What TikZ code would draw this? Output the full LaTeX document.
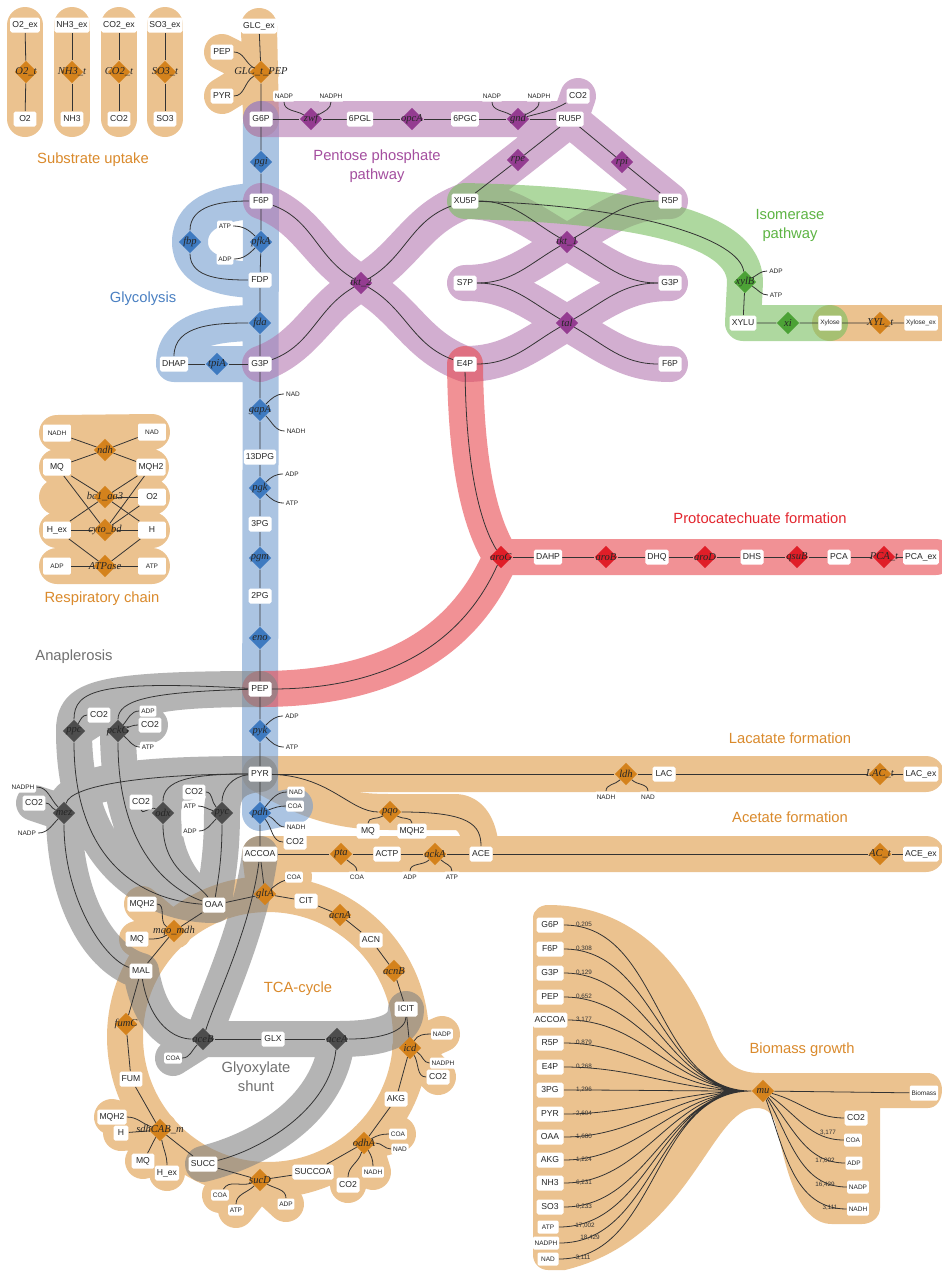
\documentclass[tikz,border=0pt]{standalone}
\usepackage{fontspec}
\setmainfont{Liberation Sans}
\newfontfamily\rxnfont{Liberation Serif}
\usepackage{tikz}
\usetikzlibrary{shapes.geometric}

\definecolor{orng}{HTML}{D4821C}
\definecolor{orngband}{HTML}{DE9A45}
\definecolor{orngtxt}{HTML}{DA8A2C}
\definecolor{blu}{HTML}{3E7AC0}
\definecolor{bluband}{HTML}{739DD0}
\definecolor{blutxt}{HTML}{4A80C2}
\definecolor{purp}{HTML}{943C91}
\definecolor{purpband}{HTML}{B479B1}
\definecolor{purptxt}{HTML}{A44E9F}
\definecolor{grn}{HTML}{4CA236}
\definecolor{grnband}{HTML}{79BF60}
\definecolor{grntxt}{HTML}{5DB443}
\definecolor{redd}{HTML}{E01E28}
\definecolor{redband}{HTML}{E8484F}
\definecolor{redtxt}{HTML}{E3262E}
\definecolor{gry}{HTML}{4D4D4D}
\definecolor{gryband}{HTML}{838383}
\definecolor{grytxt}{HTML}{707070}

\pgfdeclarelayer{paper}
\pgfdeclarelayer{bands}
\pgfdeclarelayer{links}
\pgfsetlayers{paper,bands,links,main}

\newcommand{\rx}[1]{\makebox[0pt]{#1}}

\begin{document}
\begin{tikzpicture}[x=0.02cm, y=0.02cm]
    % Styles
    \tikzstyle{met} = [fill=white, rounded corners=1pt, inner xsep=1.2pt, inner ysep=0pt, minimum height=0.3cm, minimum width=0.46cm, text=black!85, font=\fontsize{4.9}{5.5}\selectfont]
    \tikzstyle{cof} = [fill=white, rounded corners=0.8pt, inner xsep=1pt, inner ysep=0pt, minimum height=0.22cm, text=black!85, font=\fontsize{3.7}{4.2}\selectfont]
    \tikzstyle{resp} = [minimum width=0.56cm, minimum height=0.34cm]
    \tikzstyle{rxn} = [diamond, minimum width=0.45cm, minimum height=0.45cm, inner sep=0pt, text=black!85, font=\rxnfont\itshape\fontsize{6}{7}\selectfont]
    \tikzstyle{rxnO} = [rxn, fill=orng]
    \tikzstyle{rxnB} = [rxn, fill=blu]
    \tikzstyle{rxnP} = [rxn, fill=purp]
    \tikzstyle{rxnG} = [rxn, fill=grn]
    \tikzstyle{rxnR} = [rxn, fill=redd]
    \tikzstyle{rxnK} = [rxn, fill=gry]
    \tikzstyle{ln} = [draw=black!80, line width=0.45pt]
    \tikzstyle{band} = [line width=0.72cm, line cap=round, line join=round, draw opacity=0.6]
    \tikzstyle{pwlab} = [align=center, font=\fontsize{8.4}{10.8}\selectfont]
    \tikzstyle{coef} = [inner sep=0pt, text=black!80, font=\fontsize{3.6}{4.2}\selectfont]

    \useasboundingbox (0,0) rectangle (941,-1272);

    % Substrate uptake
    \node[met] (O2ex) at (25,-25) {O2\_ex};
    \node[rxnO] (O2t) at (26,-72) {\rx{O2\_t}};
    \node[met] (O2in) at (25,-119) {O2};
    \node[met] (NH3ex) at (72,-25) {NH3\_ex};
    \node[rxnO] (NH3t) at (72,-72) {\rx{NH3\_t}};
    \node[met] (NH3in) at (72,-119) {NH3};
    \node[met] (CO2ex) at (119,-25) {CO2\_ex};
    \node[rxnO] (CO2t) at (119,-72) {\rx{CO2\_t}};
    \node[met] (CO2in) at (119,-119) {CO2};
    \node[met] (SO3ex) at (165,-25) {SO3\_ex};
    \node[rxnO] (SO3t) at (165,-72) {\rx{SO3\_t}};
    \node[met] (SO3in) at (165,-119) {SO3};
    \node[pwlab, text=orngtxt] (labUptake) at (93,-160) {Substrate uptake};

    % Glucose uptake
    \node[met] (GLCex) at (259,-26) {GLC\_ex};
    \node[rxnO] (GLCt) at (261,-72) {\rx{GLC\_t\_PEP}};
    \node[met] (PEPg) at (222,-52) {PEP};
    \node[met] (PYRg) at (222,-96) {PYR};
    \node[met] (G6P) at (261,-119) {G6P};

    % Pentose phosphate pathway
    \node[rxnP] (zwf) at (311,-119) {\rx{zwf}};
    \node[cof] (NADPz) at (284,-96) {NADP};
    \node[cof] (NADPHz) at (331,-96) {NADPH};
    \node[met] (PGL) at (360,-119) {6PGL};
    \node[rxnP] (opcA) at (412,-119) {\rx{opcA}};
    \node[met] (PGC) at (465,-119) {6PGC};
    \node[rxnP] (gnd) at (518,-119) {\rx{gnd}};
    \node[cof] (NADPg) at (492,-96) {NADP};
    \node[cof] (NADPHg) at (539,-96) {NADPH};
    \node[met] (CO2g) at (578,-96) {CO2};
    \node[met] (RU5P) at (570,-119) {RU5P};
    \node[rxnP] (rpe) at (518,-160) {\rx{rpe}};
    \node[rxnP] (rpi) at (622,-162) {\rx{rpi}};
    \node[met] (XU5P) at (465,-201) {XU5P};
    \node[met] (R5P) at (670,-201) {R5P};
    \node[rxnP] (tkt1) at (567,-242) {\rx{tkt\_1}};
    \node[met] (S7P) at (465,-283) {S7P};
    \node[met] (G3Pp) at (670,-283) {G3P};
    \node[rxnP] (tal) at (567,-323) {\rx{tal}};
    \node[met] (E4P) at (465,-364) {E4P};
    \node[met] (F6Pp) at (670,-364) {F6P};
    \node[rxnP] (tkt2) at (361,-283) {\rx{tkt\_2}};
    \node[pwlab, text=purptxt] (labPPP) at (377,-166) {Pentose phosphate\\pathway};

    % Glycolysis
    \node[rxnB] (pgi) at (261,-162) {\rx{pgi}};
    \node[met] (F6P) at (261,-201) {F6P};
    \node[rxnB] (pfkA) at (261,-242) {\rx{pfkA}};
    \node[cof] (ATPpf) at (225,-226) {ATP};
    \node[cof] (ADPpf) at (225,-259) {ADP};
    \node[rxnB] (fbp) at (190,-242) {\rx{fbp}};
    \node[met] (FDP) at (260,-280) {FDP};
    \node[rxnB] (fda) at (260,-323) {\rx{fda}};
    \node[met] (G3P) at (260,-364) {G3P};
    \node[rxnB] (tpiA) at (217,-364) {\rx{tpiA}};
    \node[met] (DHAP) at (174,-364) {DHAP};
    \node[rxnB] (gapA) at (260,-410) {\rx{gapA}};
    \node[cof] (NADga) at (293,-394) {NAD};
    \node[cof] (NADHga) at (296,-431) {NADH};
    \node[met] (DPG) at (260,-457) {13DPG};
    \node[rxnB] (pgk) at (260,-488) {\rx{pgk}};
    \node[cof] (ADPpg) at (292,-474) {ADP};
    \node[cof] (ATPpg) at (292,-503) {ATP};
    \node[met] (PGiii) at (260,-524) {3PG};
    \node[rxnB] (pgm) at (260,-558) {\rx{pgm}};
    \node[met] (PGii) at (260,-596) {2PG};
    \node[rxnB] (eno) at (260,-638) {\rx{eno}};
    \node[met] (PEP) at (260,-689) {PEP};
    \node[rxnB] (pyk) at (260,-731) {\rx{pyk}};
    \node[cof] (ADPpy) at (292,-716) {ADP};
    \node[cof] (ATPpy) at (292,-747) {ATP};
    \node[met] (PYR) at (260,-774) {PYR};
    \node[rxnB] (pdh) at (260,-813) {\rx{pdh}};
    \node[cof] (NADpd) at (296,-792) {NAD};
    \node[cof] (COApd) at (295,-806) {COA};
    \node[cof] (NADHpd) at (296,-827) {NADH};
    \node[met] (CO2pd) at (295,-842) {CO2};
    \node[met] (ACCOA) at (260,-854) {ACCOA};
    \node[pwlab, text=blutxt] (labGly) at (143,-299) {Glycolysis};

    % Isomerase pathway
    \node[rxnG] (xylB) at (745,-282) {\rx{xylB}};
    \node[cof] (ADPxy) at (776,-271) {ADP};
    \node[cof] (ATPxy) at (776,-295) {ATP};
    \node[met] (XYLU) at (743,-323) {XYLU};
    \node[rxnG] (xi) at (788,-323) {\rx{xi}};
    \node[cof, minimum height=0.3cm] (Xylose) at (830,-323) {Xylose};
    \node[rxnO] (XYLt) at (880,-323) {\rx{XYL\_t}};
    \node[cof, minimum height=0.3cm] (XYLex) at (921,-323) {Xylose\_ex};
    \node[pwlab, text=grntxt] (labIso) at (790,-225) {Isomerase\\pathway};

    % Protocatechuate formation
    \node[rxnR] (aroG) at (501,-557) {\rx{aroG}};
    \node[met] (DAHP) at (548,-557) {DAHP};
    \node[rxnR] (aroB) at (606,-557) {\rx{aroB}};
    \node[met] (DHQ) at (657,-557) {DHQ};
    \node[rxnR] (aroD) at (705,-557) {\rx{aroD}};
    \node[met] (DHS) at (752,-557) {DHS};
    \node[rxnR] (qsuB) at (797,-557) {\rx{qsuB}};
    \node[met] (PCA) at (839,-557) {PCA};
    \node[rxnR] (PCAt) at (884,-557) {\rx{PCA\_t}};
    \node[met] (PCAex) at (921,-557) {PCA\_ex};
    \node[pwlab, text=redtxt] (labPCA) at (760,-518) {Protocatechuate formation};

    % Anaplerosis
    \node[rxnK] (ppc) at (74,-731) {\rx{ppc}};
    \node[met] (CO2pp) at (99,-715) {CO2};
    \node[rxnK] (pckG) at (118,-731) {\rx{pckG}};
    \node[cof] (ADPpk) at (148,-711) {ADP};
    \node[met] (CO2pk) at (150,-725) {CO2};
    \node[cof] (ATPpk) at (148,-747) {ATP};
    \node[rxnK] (mez) at (64,-813) {\rx{mez}};
    \node[cof] (NADPHme) at (23,-787) {NADPH};
    \node[met] (CO2me) at (34,-803) {CO2};
    \node[cof] (NADPme) at (27,-833) {NADP};
    \node[rxnK] (odx) at (163,-813) {\rx{odx}};
    \node[met] (CO2od) at (141,-802) {CO2};
    \node[rxnK] (pyc) at (222,-813) {\rx{pyc}};
    \node[met] (CO2py) at (194,-792) {CO2};
    \node[cof] (ATPpc) at (190,-806) {ATP};
    \node[cof] (ADPpc) at (190,-831) {ADP};
    \node[pwlab, text=grytxt] (labAna) at (74,-657) {Anaplerosis};

    % Lactate and acetate formation
    \node[rxnO] (ldh) at (626,-774) {\rx{ldh}};
    \node[cof] (NADHld) at (606,-797) {NADH};
    \node[cof] (NADld) at (648,-797) {NAD};
    \node[met] (LAC) at (664,-774) {LAC};
    \node[rxnO] (LACt) at (880,-774) {\rx{LAC\_t}};
    \node[met] (LACex) at (921,-774) {LAC\_ex};
    \node[rxnO] (pqo) at (390,-812) {\rx{pqo}};
    \node[met] (MQpq) at (368,-831) {MQ};
    \node[met] (MQHpq) at (412,-831) {MQH2};
    \node[rxnO] (pta) at (341,-854) {\rx{pta}};
    \node[cof] (COApt) at (357,-877) {COA};
    \node[met] (ACTP) at (387,-854) {ACTP};
    \node[rxnO] (ackA) at (435,-854) {\rx{ackA}};
    \node[cof] (ADPak) at (410,-877) {ADP};
    \node[cof] (ATPak) at (452,-877) {ATP};
    \node[met] (ACE) at (481,-854) {ACE};
    \node[rxnO] (ACt) at (880,-854) {\rx{AC\_t}};
    \node[met] (ACEex) at (921,-854) {ACE\_ex};
    \node[pwlab, text=orngtxt] (labLac) at (790,-738) {Lacatate formation};
    \node[pwlab, text=orngtxt] (labAce) at (790,-817) {Acetate formation};

    % TCA cycle and glyoxylate shunt
    \coordinate (tcaC) at (268,-1037);
    \node[rxnO] (gltA) at (265,-894) {\rx{gltA}};
    \node[cof] (COAgl) at (294,-877) {COA};
    \node[met] (OAA) at (214,-905) {OAA};
    \node[met] (CIT) at (306,-901) {CIT};
    \node[rxnO] (acnA) at (340,-915) {\rx{acnA}};
    \node[met] (ACN) at (371,-940) {ACN};
    \node[rxnO] (acnB) at (394,-971) {\rx{acnB}};
    \node[met] (ICIT) at (406,-1009) {ICIT};
    \node[rxnO] (icd) at (410,-1048) {\rx{icd}};
    \node[cof] (NADPic) at (442,-1034) {NADP};
    \node[cof] (NADPHic) at (443,-1063) {NADPH};
    \node[met] (CO2ic) at (438,-1077) {CO2};
    \node[met] (AKG) at (396,-1099) {AKG};
    \node[rxnO] (odhA) at (364,-1143) {\rx{odhA}};
    \node[cof] (COAod) at (398,-1134) {COA};
    \node[cof] (NADod) at (400,-1149) {NAD};
    \node[cof] (NADHod) at (373,-1172) {NADH};
    \node[met] (CO2odh) at (348,-1185) {CO2};
    \node[met] (SUCCOA) at (313,-1172) {SUCCOA};
    \node[rxnO] (sucD) at (260,-1180) {\rx{sucD}};
    \node[cof] (COAsu) at (220,-1195) {COA};
    \node[cof] (ATPsu) at (236,-1210) {ATP};
    \node[cof] (ADPsu) at (286,-1204) {ADP};
    \node[met] (SUCC) at (203,-1164) {SUCC};
    \node[rxnO] (sdh) at (160,-1130) {\rx{sdhCAB\_m}};
    \node[met] (MQHsd) at (112,-1117) {MQH2};
    \node[met, minimum width=0.3cm] (Hsd) at (121,-1133) {H};
    \node[met] (MQsd) at (143,-1161) {MQ};
    \node[met] (Hexsd) at (167,-1173) {H\_ex};
    \node[met] (FUM) at (131,-1079) {FUM};
    \node[rxnO] (fumC) at (126,-1024) {\rx{fumC}};
    \node[met] (MAL) at (141,-971) {MAL};
    \node[rxnO] (mqo) at (174,-931) {\rx{mqo\_mdh}};
    \node[met] (MQHmq) at (142,-904) {MQH2};
    \node[met] (MQmq) at (137,-939) {MQ};
    \node[rxnK] (aceB) at (203,-1039) {\rx{aceB}};
    \node[met] (GLX) at (273,-1039) {GLX};
    \node[rxnK] (aceA) at (337,-1039) {\rx{aceA}};
    \node[cof] (COAac) at (173,-1058) {COA};
    \node[pwlab, text=orngtxt] (labTCA) at (298,-989) {TCA-cycle};
    \node[pwlab, text=grytxt] (labGlx) at (256,-1077) {Glyoxylate\\shunt};

    % Respiratory chain
    \node[cof, resp] (NADHr) at (57,-433) {NADH};
    \node[cof, resp] (NADr) at (152,-432) {NAD};
    \node[rxnO] (ndh) at (105,-450) {\rx{ndh}};
    \node[met, resp] (MQr) at (57,-467) {MQ};
    \node[met, resp] (MQHr) at (151,-467) {MQH2};
    \node[rxnO] (bc1) at (105,-497) {\rx{bc1\_aa3}};
    \node[met, resp] (O2r) at (152,-497) {O2};
    \node[met, resp] (Hexr) at (57,-530) {H\_ex};
    \node[rxnO] (cyto) at (105,-530) {\rx{cyto\_bd}};
    \node[met, resp] (Hr) at (152,-530) {H};
    \node[cof, resp] (ADPr) at (57,-566) {ADP};
    \node[rxnO] (ATPase) at (105,-566) {\rx{ATPase}};
    \node[cof, resp] (ATPr) at (152,-566) {ATP};
    \node[pwlab, text=orngtxt] (labResp) at (102,-599) {Respiratory chain};

    % Biomass growth
    \node[met, minimum width=0.54cm] (bG6P) at (550,-925) {G6P};
    \node[met, minimum width=0.54cm] (bF6P) at (550,-949) {F6P};
    \node[met, minimum width=0.54cm] (bG3P) at (550,-973) {G3P};
    \node[met, minimum width=0.54cm] (bPEP) at (550,-997) {PEP};
    \node[met, minimum width=0.54cm] (bACCOA) at (550,-1020) {ACCOA};
    \node[met, minimum width=0.54cm] (bR5P) at (550,-1043) {R5P};
    \node[met, minimum width=0.54cm] (bE4P) at (550,-1067) {E4P};
    \node[met, minimum width=0.54cm] (b3PG) at (550,-1090) {3PG};
    \node[met, minimum width=0.54cm] (bPYR) at (550,-1114) {PYR};
    \node[met, minimum width=0.54cm] (bOAA) at (550,-1137) {OAA};
    \node[met, minimum width=0.54cm] (bAKG) at (550,-1160) {AKG};
    \node[met, minimum width=0.54cm] (bNH3) at (550,-1183) {NH3};
    \node[met, minimum width=0.54cm] (bSO3) at (550,-1207) {SO3};
    \node[cof, minimum width=0.42cm, minimum height=0.26cm] (bATP) at (548,-1227) {ATP};
    \node[cof, minimum width=0.42cm, minimum height=0.26cm] (bNADPH) at (546,-1243) {NADPH};
    \node[cof, minimum width=0.42cm, minimum height=0.26cm] (bNAD) at (548,-1259) {NAD};
    \node[coef] (cG6P) at (584,-925) {0,205};
    \node[coef] (cF6P) at (584,-949) {0,308};
    \node[coef] (cG3P) at (584,-973) {0,129};
    \node[coef] (cPEP) at (584,-997) {0,652};
    \node[coef] (cACCOA) at (584,-1020) {3,177};
    \node[coef] (cR5P) at (584,-1043) {0,879};
    \node[coef] (cE4P) at (584,-1067) {0,268};
    \node[coef] (c3PG) at (584,-1090) {1,296};
    \node[coef] (cPYR) at (584,-1114) {2,604};
    \node[coef] (cOAA) at (584,-1137) {1,680};
    \node[coef] (cAKG) at (584,-1160) {1,224};
    \node[coef] (cNH3) at (584,-1183) {6,231};
    \node[coef] (cSO3) at (584,-1207) {0,233};
    \node[coef] (cATP) at (585,-1226) {17,002};
    \node[coef] (cNADPH) at (590,-1238) {18,429};
    \node[coef] (cNAD) at (583,-1258) {3,111};
    \node[rxnO] (mu) at (763,-1091) {\rx{mu}};
    \node[cof, minimum height=0.3cm] (Biomass) at (924,-1093) {Biomass};
    \node[met] (bCO2) at (856,-1118) {CO2};
    \node[cof, minimum height=0.26cm] (bCOA) at (853,-1140) {COA};
    \node[cof, minimum height=0.26cm] (bADP) at (854,-1163) {ADP};
    \node[cof, minimum height=0.26cm] (bNADP) at (858,-1187) {NADP};
    \node[cof, minimum height=0.26cm] (bNADH) at (858,-1209) {NADH};
    \node[coef] (cCOA) at (828,-1133) {3,177};
    \node[coef] (cADP) at (825,-1161) {17,002};
    \node[coef] (cNADP) at (825,-1185) {16,429};
    \node[coef] (cNADH) at (830,-1208) {3,111};
    \node[pwlab, text=orngtxt] (labBio) at (802,-1050) {Biomass growth};

    % Pathway bands
    \begin{pgfonlayer}{paper}
        \fill[white] (0,0) rectangle (941,-1272);
    \end{pgfonlayer}
    \begin{pgfonlayer}{bands}
        \draw[band, orngband]
            (O2ex.center) -- (O2in.center) (NH3ex.center) -- (NH3in.center)
            (CO2ex.center) -- (CO2in.center) (SO3ex.center) -- (SO3in.center)
            (GLCex.center) -- (G6P.center) (PEPg.center) -- (GLCt.center) -- (PYRg.center)
            (Xylose.center) -- (XYLex.center) -- ++(20,0)
            (PYR.center) -- (LACex.center) -- ++(5,0)
            (PYR.center) to[out=-30,in=180] (pqo.center) -- (455,-812) to[out=0,in=90] (ACE.center)
            (ACCOA.center) -- (ACEex.center) -- ++(5,0)
            (tcaC) circle[radius=2.86cm]
            (ACCOA.center) -- (gltA.center) -- (COAgl.center)
            (MQHmq.center) -- (mqo.center) -- (MQmq.center)
            (NADPic.center) -- (icd.center) -- (CO2ic.center)
            (COAod.center) -- (odhA.center) -- (CO2odh.center) (odhA.center) -- (NADHod.center)
            (COAsu.center) -- (sucD.center) -- (ADPsu.center) (sucD.center) -- (ATPsu.center)
            (MQHsd.center) -- (sdh.center) -- (Hexsd.center) (Hsd.center) -- (sdh.center) -- (MQsd.center)
            (NADHr.center) -- (NADr.center) (MQr.center) -- (MQHr.center)
            (bc1 -| MQr) -- (O2r.center) (Hexr.center) -- (Hr.center) (ADPr.center) -- (ATPr.center);
        \fill[orngband, fill opacity=0.6] (533,-918) to[out=90,in=180] (548,-905)
            .. controls (640,-905) and (690,-975) .. (712,-1035)
            .. controls (724,-1064) and (738,-1073) .. (760,-1073) -- (928,-1073)
            to[out=0,in=90] (942,-1090) to[out=-90,in=0] (928,-1108) -- (880,-1108) -- (880,-1208)
            to[out=-90,in=0] (862,-1224) -- (832,-1224)
            .. controls (795,-1224) and (785,-1160) .. (775,-1122)
            .. controls (771,-1112) and (766,-1108) .. (756,-1108)
            .. controls (710,-1108) and (690,-1240) .. (565,-1270) -- (548,-1270)
            to[out=180,in=-90] (533,-1255) -- cycle;
        \draw[band, bluband] (G6P.center) -- (pdh.center)
            (F6P.center) to[out=180,in=90] (fbp.center) to[out=-90,in=180] (FDP.center)
            (fda.center) to[out=180,in=90] (DHAP.center) -- (G3P.center)
            (pdh.center) -- (COApd.center);
        \draw[band, purpband] (G6P.center) -- (RU5P.center) -- (CO2g.center)
            (RU5P.center) -- (rpe.center) -- (XU5P.center)
            (RU5P.center) -- (rpi.center) -- (R5P.center)
            (XU5P.center) to[out=0,in=150] (tkt1.center) to[out=-30,in=180] (G3Pp.center)
            (R5P.center) to[out=180,in=30] (tkt1.center) to[out=210,in=0] (S7P.center)
            (S7P.center) to[out=0,in=150] (tal.center) to[out=-30,in=180] (F6Pp.center)
            (G3Pp.center) to[out=180,in=30] (tal.center) to[out=210,in=0] (E4P.center)
            (F6P.center) to[out=-20,in=150] (tkt2.center) to[out=-30,in=160] (E4P.center)
            (XU5P.center) to[out=200,in=30] (tkt2.center) to[out=210,in=20] (G3P.center);
        \draw[band, grnband] (XU5P.center) .. controls (640,-205) and (745,-228) .. (xylB.center)
            -- (XYLU.center) -- (Xylose.center);
        \draw[band, redband] (E4P.center) .. controls (466,-460) and (478,-520) .. (aroG.center)
            -- (PCAex.center) -- ++(15,0)
            (PEP.center) .. controls (420,-689) and (475,-615) .. (aroG.center);
        \draw[band, gryband]
            (PEP.center) .. controls (90,-689) and (74,-700) .. (ppc.center) .. controls (74,-860) and (150,-905) .. (OAA.center)
            (PEP.center) .. controls (140,-689) and (118,-700) .. (pckG.center) .. controls (118,-850) and (170,-900) .. (OAA.center)
            (ppc.center) -- (CO2pp.center) (pckG.center) -- (CO2pk.center)
            (PYR.center) .. controls (140,-774) and (64,-780) .. (mez.center) .. controls (64,-900) and (100,-960) .. (MAL.center)
            (mez.center) -- (CO2me.center)
            (PYR.center) .. controls (190,-774) and (163,-785) .. (odx.center) .. controls (163,-870) and (195,-900) .. (OAA.center)
            (PYR.center) .. controls (232,-776) and (222,-790) .. (pyc.center) .. controls (222,-860) and (216,-880) .. (OAA.center)
            (MAL.center) .. controls (150,-1025) and (175,-1039) .. (aceB.center) -- (aceA.center)
            .. controls (385,-1039) and (406,-1030) .. (ICIT.center)
            (ACCOA.center) .. controls (250,-930) and (215,-1000) .. (aceB.center)
            (aceA.center) .. controls (330,-1110) and (260,-1150) .. (SUCC.center)
            (aceB.center) -- (COAac.center);
    \end{pgfonlayer}

    % Reaction links
    \begin{pgfonlayer}{links}
        \draw[ln] (O2ex) -- (O2t) -- (O2in);
        \draw[ln] (NH3ex) -- (NH3t) -- (NH3in);
        \draw[ln] (CO2ex) -- (CO2t) -- (CO2in);
        \draw[ln] (SO3ex) -- (SO3t) -- (SO3in);
        \draw[ln] (GLCex) -- (GLCt) -- (G6P);
        \draw[ln] (PEPg) to[out=0,in=150] (GLCt) to[out=210,in=0] (PYRg);

        \draw[ln] (G6P) -- (zwf) -- (PGL) -- (opcA) -- (PGC) -- (gnd) -- (RU5P);
        \draw[ln] (NADPz) to[out=-90,in=150] (zwf) to[out=30,in=-90] (NADPHz);
        \draw[ln] (NADPg) to[out=-90,in=150] (gnd) to[out=30,in=-90] (NADPHg);
        \draw[ln] (gnd) to[out=15,in=210] (CO2g);
        \draw[ln] (RU5P) -- (rpe) -- (XU5P);
        \draw[ln] (RU5P) -- (rpi) -- (R5P);
        \draw[ln] (XU5P) to[out=0,in=150] (tkt1) to[out=-30,in=180] (G3Pp);
        \draw[ln] (R5P) to[out=180,in=30] (tkt1) to[out=210,in=0] (S7P);
        \draw[ln] (S7P) to[out=0,in=150] (tal) to[out=-30,in=180] (F6Pp);
        \draw[ln] (G3Pp) to[out=180,in=30] (tal) to[out=210,in=0] (E4P);
        \draw[ln] (F6P) to[out=-20,in=150] (tkt2) to[out=-30,in=160] (E4P);
        \draw[ln] (XU5P) to[out=200,in=30] (tkt2) to[out=210,in=20] (G3P);

        \draw[ln] (G6P) -- (pgi) -- (F6P) -- (pfkA) -- (FDP) -- (fda) -- (G3P) -- (gapA) -- (DPG) -- (pgk) -- (PGiii) -- (pgm) -- (PGii) -- (eno) -- (PEP) -- (pyk) -- (PYR) -- (pdh) -- (ACCOA);
        \draw[ln] (F6P) to[out=180,in=90] (fbp) to[out=-90,in=180] (FDP);
        \draw[ln] (ATPpf) to[out=0,in=135] (pfkA) to[out=225,in=0] (ADPpf);
        \draw[ln] (fda) to[out=180,in=90] (DHAP);
        \draw[ln] (DHAP) -- (tpiA) -- (G3P);
        \draw[ln] (NADga) to[out=180,in=45] (gapA) to[out=-45,in=180] (NADHga);
        \draw[ln] (ADPpg) to[out=180,in=45] (pgk) to[out=-45,in=180] (ATPpg);
        \draw[ln] (ADPpy) to[out=180,in=45] (pyk) to[out=-45,in=180] (ATPpy);
        \draw[ln] (NADpd) to[out=180,in=50] (pdh);
        \draw[ln] (COApd) to[out=180,in=20] (pdh);
        \draw[ln] (pdh) to[out=-20,in=180] (NADHpd);
        \draw[ln] (pdh) to[out=-50,in=180] (CO2pd);

        \draw[ln] (XU5P) .. controls (640,-206) and (740,-240) .. (xylB);
        \draw[ln] (xylB) -- (XYLU) -- (xi) -- (Xylose) -- (XYLt) -- (XYLex);
        \draw[ln] (xylB) to[out=30,in=180] (ADPxy);
        \draw[ln] (xylB) to[out=-30,in=180] (ATPxy);

        \draw[ln] (E4P) .. controls (466,-460) and (478,-520) .. (aroG);
        \draw[ln] (PEP) .. controls (420,-689) and (475,-615) .. (aroG);
        \draw[ln] (aroG) -- (DAHP) -- (aroB) -- (DHQ) -- (aroD) -- (DHS) -- (qsuB) -- (PCA) -- (PCAt) -- (PCAex);

        \draw[ln] (PEP) .. controls (100,-680) and (74,-690) .. (ppc);
        \draw[ln] (ppc) .. controls (74,-860) and (140,-900) .. (OAA);
        \draw[ln] (PEP) .. controls (150,-692) and (118,-700) .. (pckG);
        \draw[ln] (pckG) .. controls (118,-850) and (170,-890) .. (OAA);
        \draw[ln] (CO2pp) to[out=180,in=60] (ppc);
        \draw[ln] (pckG) to[out=50,in=180] (ADPpk);
        \draw[ln] (pckG) to[out=20,in=180] (CO2pk);
        \draw[ln] (pckG) to[out=-40,in=180] (ATPpk);
        \draw[ln] (PYR) .. controls (150,-774) and (70,-785) .. (mez);
        \draw[ln] (mez) .. controls (64,-900) and (105,-960) .. (MAL);
        \draw[ln] (NADPHme) to[out=0,in=135] (mez);
        \draw[ln] (CO2me) to[out=0,in=160] (mez);
        \draw[ln] (mez) to[out=-135,in=0] (NADPme);
        \draw[ln] (PYR) .. controls (190,-774) and (163,-780) .. (odx);
        \draw[ln] (odx) .. controls (163,-870) and (195,-880) .. (OAA);
        \draw[ln] (CO2od) to[out=-90,in=150] (odx);
        \draw[ln] (PYR) .. controls (232,-776) and (222,-790) .. (pyc);
        \draw[ln] (pyc) .. controls (222,-860) and (218,-880) .. (OAA);
        \draw[ln] (CO2py) to[out=0,in=135] (pyc);
        \draw[ln] (ATPpc) to[out=0,in=165] (pyc);
        \draw[ln] (pyc) to[out=-135,in=0] (ADPpc);

        \draw[ln] (PYR) -- (ldh) -- (LAC) -- (LACt) -- (LACex);
        \draw[ln] (NADHld) to[out=90,in=225] (ldh) to[out=-45,in=90] (NADld);
        \draw[ln] (PYR) .. controls (330,-776) and (350,-812) .. (pqo);
        \draw[ln] (pqo) .. controls (470,-812) and (481,-825) .. (ACE);
        \draw[ln] (MQpq) to[out=90,in=210] (pqo) to[out=-30,in=90] (MQHpq);
        \draw[ln] (ACCOA) -- (pta) -- (ACTP) -- (ackA) -- (ACE) -- (ACt) -- (ACEex);
        \draw[ln] (pta) to[out=-45,in=90] (COApt);
        \draw[ln] (ADPak) to[out=90,in=225] (ackA) to[out=-45,in=90] (ATPak);

        \draw[ln] (OAA) -- (gltA) -- (CIT) -- (acnA) -- (ACN) -- (acnB) -- (ICIT) -- (icd) -- (AKG) -- (odhA) -- (SUCCOA) -- (sucD) -- (SUCC) -- (sdh) -- (FUM) -- (fumC) -- (MAL) -- (mqo) -- (OAA);
        \draw[ln] (ACCOA) -- (gltA);
        \draw[ln] (gltA) to[out=40,in=200] (COAgl);
        \draw[ln] (MQHmq) to[out=0,in=150] (mqo) to[out=210,in=0] (MQmq);
        \draw[ln] (NADPic) to[out=180,in=60] (icd);
        \draw[ln] (icd) to[out=-30,in=180] (NADPHic);
        \draw[ln] (icd) to[out=-60,in=180] (CO2ic);
        \draw[ln] (odhA) to[out=30,in=180] (COAod);
        \draw[ln] (NADod) to[out=180,in=0] (odhA);
        \draw[ln] (odhA) to[out=-60,in=90] (NADHod);
        \draw[ln] (odhA) to[out=-105,in=90] (CO2odh);
        \draw[ln] (COAsu) to[out=60,in=200] (sucD);
        \draw[ln] (ATPsu) to[out=90,in=225] (sucD);
        \draw[ln] (sucD) to[out=-30,in=90] (ADPsu);
        \draw[ln] (MQHsd) to[out=0,in=160] (sdh);
        \draw[ln] (Hsd) -- (sdh);
        \draw[ln] (sdh) to[out=-120,in=60] (MQsd);
        \draw[ln] (sdh) to[out=-80,in=90] (Hexsd);
        \draw[ln] (MAL) .. controls (150,-1025) and (175,-1039) .. (aceB);
        \draw[ln] (aceB) -- (GLX) -- (aceA);
        \draw[ln] (aceA) .. controls (385,-1039) and (406,-1030) .. (ICIT);
        \draw[ln] (ACCOA) .. controls (250,-930) and (215,-1000) .. (aceB);
        \draw[ln] (aceB) to[out=-135,in=0] (COAac);
        \draw[ln] (aceA) .. controls (330,-1110) and (260,-1150) .. (SUCC);

        \draw[ln] (NADHr) -- (ndh) -- (MQHr);
        \draw[ln] (MQr) -- (ndh) -- (NADr);
        \draw[ln] (MQHr) -- (bc1) -- (Hexr);
        \draw[ln] (MQr) -- (bc1) -- (Hr);
        \draw[ln] (O2r) -- (bc1);
        \draw[ln] (MQr) -- (cyto);
        \draw[ln] (MQHr) -- (cyto);
        \draw[ln] (O2r) -- (cyto);
        \draw[ln] (Hexr) -- (cyto) -- (Hr);
        \draw[ln] (ADPr) -- (ATPase) -- (ATPr);
        \draw[ln] (Hexr) -- (ATPase) -- (Hr);

        \draw[ln] (bG6P) to[out=0,in=180] (mu) (bF6P) to[out=0,in=180] (mu)
            (bG3P) to[out=0,in=180] (mu) (bPEP) to[out=0,in=180] (mu)
            (bACCOA) to[out=0,in=180] (mu) (bR5P) to[out=0,in=180] (mu)
            (bE4P) to[out=0,in=180] (mu) (b3PG) to[out=0,in=180] (mu)
            (bPYR) to[out=0,in=180] (mu) (bOAA) to[out=0,in=180] (mu)
            (bAKG) to[out=0,in=180] (mu) (bNH3) to[out=0,in=180] (mu)
            (bSO3) to[out=0,in=180] (mu) (bATP) to[out=0,in=180] (mu)
            (bNADPH) to[out=0,in=180] (mu) (bNAD) to[out=0,in=180] (mu);
        \draw[ln] (mu) -- (Biomass);
        \draw[ln] (mu) to[out=-15,in=180] (bCO2) (mu) to[out=-35,in=180] (bCOA)
            (mu) to[out=-50,in=180] (bADP) (mu) to[out=-60,in=180] (bNADP)
            (mu) to[out=-70,in=180] (bNADH);
    \end{pgfonlayer}
\end{tikzpicture}
\end{document}
